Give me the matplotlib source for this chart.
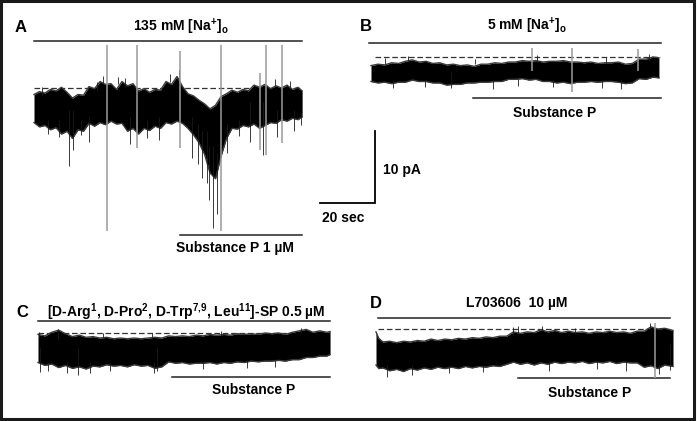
import matplotlib
matplotlib.use("Agg")
import matplotlib.pyplot as plt
from matplotlib.patches import Rectangle

plt.rcParams["font.family"] = ["Liberation Sans", "DejaVu Sans"]
plt.rcParams["font.weight"] = "bold"
plt.rcParams["mathtext.fontset"] = "custom"
plt.rcParams["mathtext.rm"] = "Liberation Sans:bold"
plt.rcParams["mathtext.bf"] = "Liberation Sans:bold"
plt.rcParams["mathtext.it"] = "Liberation Sans:bold"

# ---- trace envelopes (time in s, current in pA, 0 = dashed baseline)
a_t = [0, 2, 4, 6, 8, 10, 12, 14, 16, 18,
       20, 22, 24, 26, 28, 30, 32, 34, 36, 38,
       40, 42, 44, 46, 48, 50, 52, 54, 56, 58,
       60, 62, 64, 66, 68, 70, 72, 74, 76, 78,
       80, 82, 84, 86, 88, 90, 92, 94, 96, 97.5]
a_hi = [-0.9, -0.5, -0.7, -0.2, -0.4, 0.1, -0.6, -1.4, -0.9, -1.0,
        0.2, -0.1, 0.9, 0.5, 0.6, -0.2, 0.9, 0.3, 0.6, -0.4,
        -0.1, -0.6, -0.2, -0.3, 0.9, 0.5, 1.6, 0.2, -0.8, -1.1,
        -1.7, -2.2, -2.9, -2.4, -1.2, -0.8, -0.3, -0.6, -0.2, -0.4,
        0.4, 0.1, 0.5, -0.1, 0.3, 0.0, 0.4, -0.2, 0.1, -0.4]
a_lo = [-4.8, -5.4, -5.2, -5.8, -5.5, -6.4, -6.0, -7.0, -5.8, -6.0,
        -4.9, -5.3, -4.8, -5.1, -4.6, -5.0, -4.9, -6.0, -5.6, -6.4,
        -5.6, -5.9, -5.3, -5.6, -4.8, -5.0, -4.6, -4.9, -5.6, -6.5,
        -7.6, -9.2, -11.8, -12.6, -9.5, -7.0, -5.6, -5.7, -5.2, -5.4,
        -5.0, -5.6, -5.2, -4.8, -4.9, -4.4, -4.6, -4.2, -4.4, -4.0]
# spikes: (time, top, bottom)
a_gray_spikes = [(26.5, 6.0, -19.9), (37.5, 6.0, -8.3), (53.1, 5.1, -8.3), (68.0, 6.0, -19.9),
                 (84.4, 6.0, -9.3), (90.2, 6.0, -7.6), (82.2, 2.1, -8.6)]
a_black_spikes = [(12.7, -3.0, -10.8), (14.2, -3.0, -8.6), (57.5, -4.0, -9.7), (61.1, -6.0, -12.5),
                  (62.9, -6.0, -13.2), (65.1, -8.0, -19.4), (78.5, -2.0, -7.5), (83.3, -2.0, -9.3),
                  (52.7, 2.5, -3.0), (59.5, -5.0, -10.5), (63.5, -8.0, -15.5), (66.5, -9.0, -17.5),
                  (70.2, -5.0, -9.0), (20.0, -4.0, -7.5), (34.8, -4.0, -7.8), (45.5, -4.0, -7.2),
                  (88.5, -3.0, -6.8), (94.5, -3.0, -6.0), (25.2, 0.5, 1.6), (30.5, 0.5, 1.5),
                  (49.5, 0.8, 2.0), (87.5, 0.3, 1.3), (93.0, 0.2, 1.0), (5.0, -4.5, -6.4),
                  (9.0, -4.5, -6.8), (17.2, -4.5, -6.5), (41.0, -4.5, -6.9), (74.5, -4.5, -6.6),
                  (97.0, -3.5, -5.2), (3.0, -1.0, 0.2), (22.8, -0.5, 0.9), (33.0, 0.0, 1.4)]

b_t = [0, 2.5, 5, 7.5, 10, 12.5, 15, 17.5, 20, 22.5,
       25, 27.5, 30, 32.5, 35, 37.5, 40, 42.5, 45, 47.5,
       50, 52.5, 55, 57.5, 60, 62.5, 65, 67.5, 70, 72.5,
       75, 77.5, 80, 82.5, 85, 87.5, 90, 92.5, 95, 97.5,
       100, 102.5, 104.7]
b_hi = [-1.2, -1.0, -1.1, -0.8, -0.9, -0.6, -0.4, -0.7, -0.6, -0.9,
        -0.8, -1.1, -1.0, -1.2, -1.1, -1.3, -1.0, -1.0, -0.8, -0.9,
        -0.7, -0.7, -0.5, -0.6, -0.5, -0.7, -0.6, -0.6, -0.5, -0.7,
        -0.7, -0.8, -0.7, -0.9, -0.8, -0.8, -0.7, -1.0, -0.9, -0.3,
        -0.3, 0.0, -0.1]
b_lo = [-3.4, -3.6, -3.5, -3.7, -3.5, -3.5, -3.2, -3.4, -3.4, -3.6,
        -3.6, -3.9, -3.8, -3.8, -3.6, -3.6, -3.5, -3.5, -3.4, -3.4,
        -3.1, -3.1, -3.0, -3.2, -3.1, -3.4, -3.4, -3.6, -3.5, -3.7,
        -3.5, -3.5, -3.4, -3.5, -3.4, -3.4, -3.5, -3.7, -3.6, -3.0,
        -3.1, -2.8, -2.9]
b_gray_spikes = [(58.5, 1.25, -2.0), (73.1, 1.25, -4.9), (97.1, 1.1, -2.0)]
b_black_spikes = [(29.1, -2.0, -4.3), (8.0, -3.0, -4.3), (19.5, -3.0, -4.2), (44.5, -3.0, -4.4),
                  (53.5, -3.0, -4.0), (84.0, -3.0, -4.3), (5.0, -1.0, -0.2), (38.0, -1.0, -0.3),
                  (60.5, -0.5, 0.3), (85.5, -0.8, 0.0), (13.5, -0.5, 0.1), (66.0, -3.0, -4.2),
                  (91.0, -3.0, -4.4), (101.0, -0.5, 0.4)]

c_t = [0, 2.5, 5, 7.5, 10, 12.5, 15, 17.5, 20, 22.5,
       25, 27.5, 30, 32.5, 35, 37.5, 40, 42.5, 45, 47.5,
       50, 52.5, 55, 57.5, 60, 62.5, 65, 67.5, 70, 72.5,
       75, 77.5, 80, 82.5, 85, 87.5, 90, 92.5, 95, 97.5,
       100, 102.5, 105, 106.2]
c_hi = [-0.2, -0.4, 0.1, 0.4, -0.1, -0.5, -0.3, -0.6, -0.5, -0.7,
        -0.6, -0.8, -0.7, -0.8, -0.7, -0.8, -0.7, -0.6, -0.7, -0.4,
        -0.5, -0.4, -0.5, -0.3, -0.4, -0.2, -0.3, -0.2, -0.3, -0.1,
        -0.2, -0.1, -0.2, 0.0, -0.1, 0.0, -0.2, 0.1, 0.3, 0.5,
        0.1, 0.3, 0.1, 0.2]
c_lo = [-4.1, -4.5, -4.3, -4.8, -4.5, -4.9, -4.7, -5.0, -4.6, -4.7,
        -4.4, -4.6, -4.5, -4.7, -4.4, -4.6, -4.5, -4.9, -4.7, -4.0,
        -4.2, -4.1, -4.3, -4.2, -4.2, -4.1, -4.3, -4.1, -4.2, -4.0,
        -4.1, -3.9, -4.0, -3.9, -3.9, -3.8, -3.9, -3.7, -3.7, -3.4,
        -3.4, -3.2, -3.2, -3.0]
c_gray_spikes = []
c_black_spikes = [(14.5, -2.0, -5.85), (0.7, -2.0, -5.4), (7.3, 0.55, -1.0), (43.3, -2.0, -5.3),
                  (3.5, -4.0, -5.3), (10.5, -4.0, -5.6), (19.0, -4.0, -5.5), (26.0, -4.0, -5.3),
                  (42.0, -4.0, -5.6), (60.0, -4.0, -5.0), (76.0, -3.8, -4.9), (86.0, -3.8, -4.7),
                  (0.5, -0.5, 0.2), (23.5, -0.5, 0.0), (41.5, -0.5, 0.0), (66.5, -0.3, 0.3),
                  (95.5, 0.0, 0.7)]

d_t = [0, 1, 2.5, 5, 7.5, 10, 12.5, 15, 17.5, 20,
       22.5, 25, 27.5, 30, 32.5, 35, 37.5, 40, 42.5, 45,
       47.5, 50, 52.5, 55, 57.5, 60, 62.5, 65, 67.5, 70,
       72.5, 75, 77.5, 80, 82.5, 85, 87.5, 90, 92.5, 95,
       97.5, 100, 102.5, 105, 108]
d_hi = [-0.4, -1.3, -1.8, -1.7, -1.9, -1.7, -1.8, -1.6, -1.7, -1.4,
        -1.6, -1.4, -1.5, -1.3, -1.4, -1.2, -1.3, -1.1, -1.2, -1.0,
        -1.0, -0.4, -0.6, -0.4, -0.5, -0.1, -0.4, -0.2, -0.5, -0.3,
        -0.5, -0.4, -0.6, -0.4, -0.5, -0.3, -0.5, -0.4, -0.6, -0.3,
        -0.3, 0.3, 0.0, 0.1, -0.2]
d_lo = [-5.0, -5.5, -5.4, -5.8, -5.6, -5.9, -5.5, -5.7, -5.4, -5.6,
        -5.3, -5.5, -5.3, -5.5, -5.2, -5.4, -5.2, -5.3, -5.1, -5.2,
        -4.9, -4.6, -4.9, -4.7, -5.0, -4.7, -4.9, -4.6, -4.8, -4.6,
        -4.7, -4.5, -4.8, -4.6, -4.7, -4.5, -4.8, -4.6, -4.7, -4.7,
        -5.3, -5.1, -5.5, -5.0, -5.2]
d_gray_spikes = [(101.5, 0.85, -6.8)]
d_black_spikes = [(106.9, -2.0, -5.7), (49.8, 0.3, -1.0), (4.0, -5.0, -6.6), (13.0, -5.0, -6.4),
                  (26.5, -5.0, -6.1), (39.0, -5.0, -6.0), (63.0, -4.5, -5.8), (80.5, -4.5, -5.5),
                  (91.0, -4.5, -5.8), (103.0, -5.0, -6.3), (51.8, -0.5, 0.4), (60.5, -0.3, 0.4),
                  (72.5, -0.5, 0.1), (99.8, 0.0, 0.9)]

# ---- bars: (start s, end s, level pA)
a_top_bar, a_sp_bar = (0, 97.5, 6.5), (53.1, 97.5, -20.4)
b_top_bar, b_sp_bar = (-0.7, 105.5, 1.95), (37.1, 105.5, -5.7)
c_top_bar, c_sp_bar = (0, 106.2, 1.65), (48.7, 106.2, -6.1)
d_top_bar, d_sp_bar = (0.7, 106.9, 1.55), (51.6, 106.9, -6.8)
a_dash, b_dash, c_dash, d_dash = (0, 97.5), (1.5, 105.0), (0, 106.2), (0.7, 106.9)

titles = ["135 mM [Na$^{+}$]$_{\\rm o}$", "5 mM [Na$^{+}$]$_{\\rm o}$",
          "[D-Arg$^{1}$, D-Pro$^{2}$, D-Trp$^{7{,}9}$, Leu$^{11}$]-SP 0.5 \u00b5M",
          "L703606  10 \u00b5M"]
sp_labels = ["Substance P 1 \u00b5M", "Substance P", "Substance P", "Substance P"]
letters = ["A", "B", "C", "D"]

# ---- layout (pixels): origin of each panel = trace start x, baseline y
W, H = 697, 421
PX_PER_S = 55 / 20.0
PX_PER_PA = 72 / 10.0
origins = [(34, 88), (371, 57), (38, 333), (376, 329)]
title_pos = [(53.5, 8.5), (56.7, 4.3), (53.8, 2.9), (51.3, 3.6)]
letter_pos = [(-4.7, 8.4), (-1.8, 4.2), (-5.8, 2.9), (0.0, 3.6)]
sp_label_pos = [(73.1, -22.2), (66.9, -7.8), (78.5, -7.9), (77.5, -8.9)]

fig = plt.figure(figsize=(W / 100, H / 100), dpi=100)

panels = [
    (a_t, a_hi, a_lo, a_gray_spikes, a_black_spikes, a_top_bar, a_sp_bar, a_dash),
    (b_t, b_hi, b_lo, b_gray_spikes, b_black_spikes, b_top_bar, b_sp_bar, b_dash),
    (c_t, c_hi, c_lo, c_gray_spikes, c_black_spikes, c_top_bar, c_sp_bar, c_dash),
    (d_t, d_hi, d_lo, d_gray_spikes, d_black_spikes, d_top_bar, d_sp_bar, d_dash),
]

axes = []
for i, (t, hi, lo, gs, bs, topb, spb, dash) in enumerate(panels):
    x0, y0 = origins[i]
    ax = fig.add_axes([0, 0, 1, 1])
    ax.set_xlim(-x0 / PX_PER_S, (W - x0) / PX_PER_S)
    ax.set_ylim((y0 - H) / PX_PER_PA, y0 / PX_PER_PA)
    ax.axis("off")
    ax.patch.set_alpha(0)
    ax.plot(dash, [0, 0], color="#333333", lw=0.9, dashes=(4.5, 2.2), zorder=1)
    ax.fill_between(t, lo, hi, color="black", lw=0, zorder=2)
    ax.plot(t, hi, color="#3a3a3a", lw=1.0, zorder=2)
    ax.plot(t, lo, color="#3a3a3a", lw=1.0, zorder=2)
    for (st, top, bot) in gs:
        ax.vlines(st, bot, top, color="#9a9a9a", lw=1.1, zorder=3)
    for (st, top, bot) in bs:
        ax.vlines(st, bot, top, color="#1a1a1a", lw=0.6, zorder=2)
    ax.plot(topb[:2], [topb[2]] * 2, color="#222222", lw=1.1)
    ax.plot(spb[:2], [spb[2]] * 2, color="#222222", lw=1.1)
    ax.text(*title_pos[i], titles[i], ha="center", va="center", fontsize=10, fontweight="bold")
    ax.text(*letter_pos[i], letters[i], ha="center", va="center", fontsize=12, fontweight="bold")
    ax.text(*sp_label_pos[i], sp_labels[i], ha="center", va="center", fontsize=10, fontweight="bold")
    axes.append(ax)

# scale bar in panel A units: 20 s, 10 pA
ax = axes[0]
ax.plot([104, 124, 124], [-16, -16, -6], color="black", lw=1.3, solid_joinstyle="miter")
ax.text(126.9, -11.4, "10 pA", ha="left", va="center", fontsize=10, fontweight="bold")
ax.text(104.7, -18.1, "20 sec", ha="left", va="center", fontsize=10, fontweight="bold")

fig.patches.append(Rectangle((0.002, 0.004), 0.994, 0.993, transform=fig.transFigure,
                             fill=False, edgecolor="#1a1a1a", lw=2.2))

fig.savefig("out.png", dpi=100)
